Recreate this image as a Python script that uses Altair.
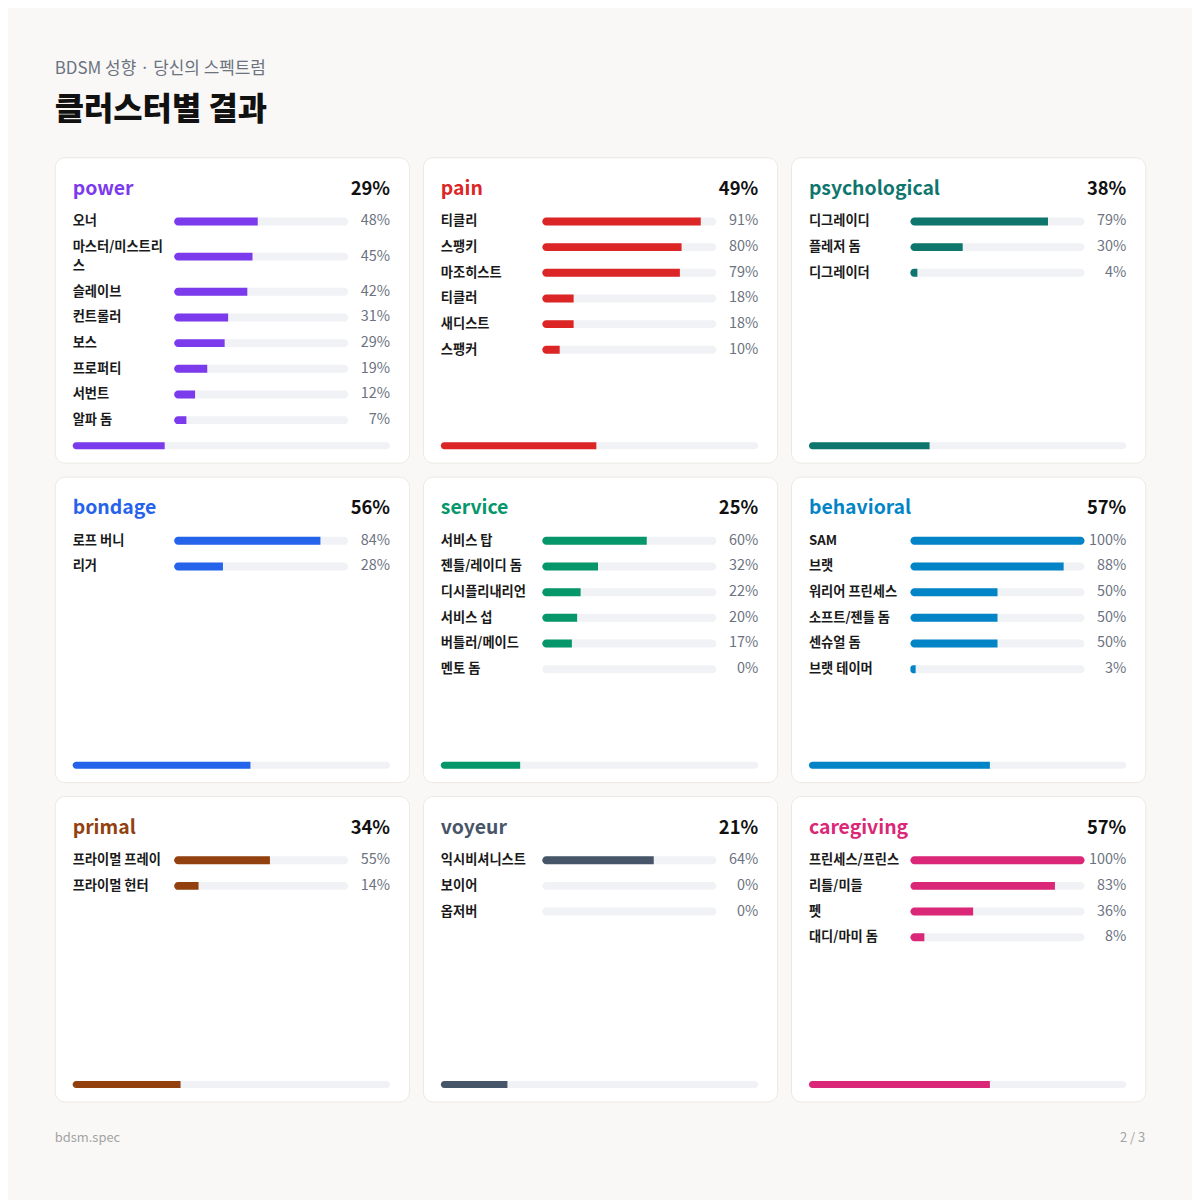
import altair as alt
import pandas as pd

# ---------------- data ----------------
SUBTITLE = "BDSM 성향 · 당신의 스펙트럼"
TITLE = "클러스터별 결과"
FOOTER_LEFT = "bdsm.spec"
FOOTER_RIGHT = "2 / 3"

CLUSTERS = ["power", "pain", "psychological", "bondage", "service",
            "behavioral", "primal", "voyeur", "caregiving"]
CLUSTER_SCORES = [29, 49, 38, 56, 25, 57, 34, 21, 57]
CLUSTER_COLORS = ["#7c3aed", "#dc2626", "#0f766e", "#2563eb", "#059669",
                  "#0284c7", "#92400e", "#475569", "#db2777"]

power_labels = ["오너", "마스터/미스트리스", "슬레이브", "컨트롤러", "보스", "프로퍼티", "서번트", "알파 돔"]
power_values = [48, 45, 42, 31, 29, 19, 12, 7]
pain_labels = ["티클리", "스팽키", "마조히스트", "티클러", "새디스트", "스팽커"]
pain_values = [91, 80, 79, 18, 18, 10]
psychological_labels = ["디그레이디", "플레저 돔", "디그레이더"]
psychological_values = [79, 30, 4]
bondage_labels = ["로프 버니", "리거"]
bondage_values = [84, 28]
service_labels = ["서비스 탑", "젠틀/레이디 돔", "디시플리내리언", "서비스 섭", "버틀러/메이드", "멘토 돔"]
service_values = [60, 32, 22, 20, 17, 0]
behavioral_labels = ["SAM", "브랫", "워리어 프린세스", "소프트/젠틀 돔", "센슈얼 돔", "브랫 테이머"]
behavioral_values = [100, 88, 50, 50, 50, 3]
primal_labels = ["프라이멀 프레이", "프라이멀 헌터"]
primal_values = [55, 14]
voyeur_labels = ["익시비셔니스트", "보이어", "옵저버"]
voyeur_values = [64, 0, 0]
caregiving_labels = ["프린세스/프린스", "리틀/미들", "펫", "대디/마미 돔"]
caregiving_values = [100, 83, 36, 8]

ROWS = {
    "power": (power_labels, power_values),
    "pain": (pain_labels, pain_values),
    "psychological": (psychological_labels, psychological_values),
    "bondage": (bondage_labels, bondage_values),
    "service": (service_labels, service_values),
    "behavioral": (behavioral_labels, behavioral_values),
    "primal": (primal_labels, primal_values),
    "voyeur": (voyeur_labels, voyeur_values),
    "caregiving": (caregiving_labels, caregiving_values),
}

# ---------------- style / layout ----------------
FONT = "Noto Sans CJK KR"
BG = "#f9f8f6"
TRACK = "#f1f2f5"
LABEL_C = "#1a1a1a"
PCT_C = "#6b7280"
CARD_W, CARD_H = 356, 307
GAP = 12
ROW_PX = 25.8
FIRST_ROW_PX = 64.5
WRAP_ROW = 1.74
WRAP_AT = 8
LINE_H = 19
TOTAL_W = 3 * CARD_W + 2 * GAP

y_scale = alt.Scale(domain=[-FIRST_ROW_PX / ROW_PX, (CARD_H - FIRST_ROW_PX) / ROW_PX],
                    reverse=True, nice=False, zero=False, padding=0)
x_row = alt.Scale(domain=[0, 100], range=[120, 295], nice=False, padding=0)
x_tot = alt.Scale(domain=[0, 100], range=[18, 337], nice=False, padding=0)


def panel(name, score, color):
    labels, values = ROWS[name]
    rows = []
    pos = 0.0
    for lab, v in zip(labels, values):
        wrapped = len(lab) > WRAP_AT
        h = WRAP_ROW if wrapped else 1.0
        center = pos + h / 2 - 0.5
        text = lab[:WRAP_AT] + "\n" + lab[WRAP_AT:] if wrapped else lab
        rows.append(dict(label=text, wrapped=wrapped, value=v, pct=f"{v}%",
                         slot=center, start=0, full=100))
        pos += h
    df = pd.DataFrame(rows)
    head = pd.DataFrame([dict(name=name, score=score, pct=f"{score}%", start=0, full=100)])

    Y = alt.Y("slot:Q", scale=y_scale, axis=None)
    base = alt.Chart(df)

    track = base.mark_bar(orient="horizontal", size=8, cornerRadius=4, color=TRACK).encode(
        x=alt.X("start:Q", scale=x_row, axis=None), x2="full:Q", y=Y)
    fill = base.transform_filter("datum.value < 100").mark_bar(
        orient="horizontal", size=8, cornerRadiusTopLeft=4, cornerRadiusBottomLeft=4, color=color
    ).encode(x=alt.X("start:Q", scale=x_row, axis=None), x2="value:Q", y=Y)
    fill_full = base.transform_filter("datum.value >= 100").mark_bar(
        orient="horizontal", size=8, cornerRadius=4, color=color
    ).encode(x=alt.X("start:Q", scale=x_row, axis=None), x2="value:Q", y=Y)
    label_style = dict(align="left", baseline="middle", font=FONT, fontSize=13.3,
                       fontWeight="bold", color=LABEL_C, lineBreak="\n", lineHeight=LINE_H)
    labels_t = base.transform_filter("!datum.wrapped").mark_text(**label_style).encode(
        x=alt.value(18), y=Y, text="label:N")
    labels_w = base.transform_filter("datum.wrapped").mark_text(dy=-LINE_H / 2, **label_style).encode(
        x=alt.value(18), y=Y, text="label:N")
    pcts = base.mark_text(align="right", baseline="middle", font=FONT, fontSize=14.5,
                          color=PCT_C).encode(x=alt.value(337), y=Y, text="pct:N")

    hb = alt.Chart(head)
    title = hb.mark_text(align="left", baseline="middle", font=FONT, fontSize=19.5,
                         fontWeight="bold", color=color).encode(
        x=alt.value(18), y=alt.value(32), text="name:N")
    overall = hb.mark_text(align="right", baseline="middle", font=FONT, fontSize=18.5,
                           fontWeight="bold", color="#111111").encode(
        x=alt.value(337), y=alt.value(32), text="pct:N")
    btrack = hb.mark_bar(cornerRadius=3.5, color=TRACK).encode(
        x=alt.X("start:Q", scale=x_tot, axis=None), x2="full:Q",
        y=alt.value(286.5), y2=alt.value(293.5))
    bfill = hb.mark_bar(cornerRadiusTopLeft=3.5, cornerRadiusBottomLeft=3.5, color=color).encode(
        x=alt.X("start:Q", scale=x_tot, axis=None), x2="score:Q",
        y=alt.value(286.5), y2=alt.value(293.5))

    return alt.layer(track, fill, fill_full, labels_t, labels_w, pcts, title, overall,
                     btrack, bfill).resolve_scale(x="independent").properties(
        width=CARD_W, height=CARD_H,
        view=alt.ViewBackground(fill="white", stroke="#ebe8e3", strokeWidth=1, cornerRadius=10))


panels = [panel(n, s, c) for n, s, c in zip(CLUSTERS, CLUSTER_SCORES, CLUSTER_COLORS)]
grid_rows = [alt.hconcat(*panels[i:i + 3], spacing=GAP) for i in range(0, 9, 3)]

hdf = pd.DataFrame([dict(sub=SUBTITLE, main=TITLE)])
header = alt.layer(
    alt.Chart(hdf).mark_text(align="left", baseline="middle", font=FONT, fontSize=17,
                             color="#6b7280").encode(x=alt.value(0), y=alt.value(57), text="sub:N"),
    alt.Chart(hdf).mark_text(align="left", baseline="middle", font=FONT, fontSize=32,
                             fontWeight=900, color="#111111").encode(x=alt.value(0), y=alt.value(99), text="main:N"),
).properties(width=TOTAL_W, height=132,
             view=alt.ViewBackground(fill="transparent", stroke="transparent"))

fdf = pd.DataFrame([dict(left=FOOTER_LEFT, right=FOOTER_RIGHT)])
footer = alt.layer(
    alt.Chart(fdf).mark_text(align="left", baseline="middle", font=FONT, fontSize=13,
                             color="#a3a3a3").encode(x=alt.value(0), y=alt.value(23), text="left:N"),
    alt.Chart(fdf).mark_text(align="right", baseline="middle", font=FONT, fontSize=13,
                             color="#a3a3a3").encode(x=alt.value(TOTAL_W + 4), y=alt.value(23), text="right:N"),
).properties(width=TOTAL_W, height=40,
             view=alt.ViewBackground(fill="transparent", stroke="transparent"))

chart = alt.vconcat(header, *grid_rows, footer, spacing=GAP).properties(
    padding={"left": 46, "top": 0, "right": 46, "bottom": 43},
    background=BG,
).configure_view(strokeWidth=1)

chart.save("out.html", embed_options={"renderer": "svg", "actions": False})
